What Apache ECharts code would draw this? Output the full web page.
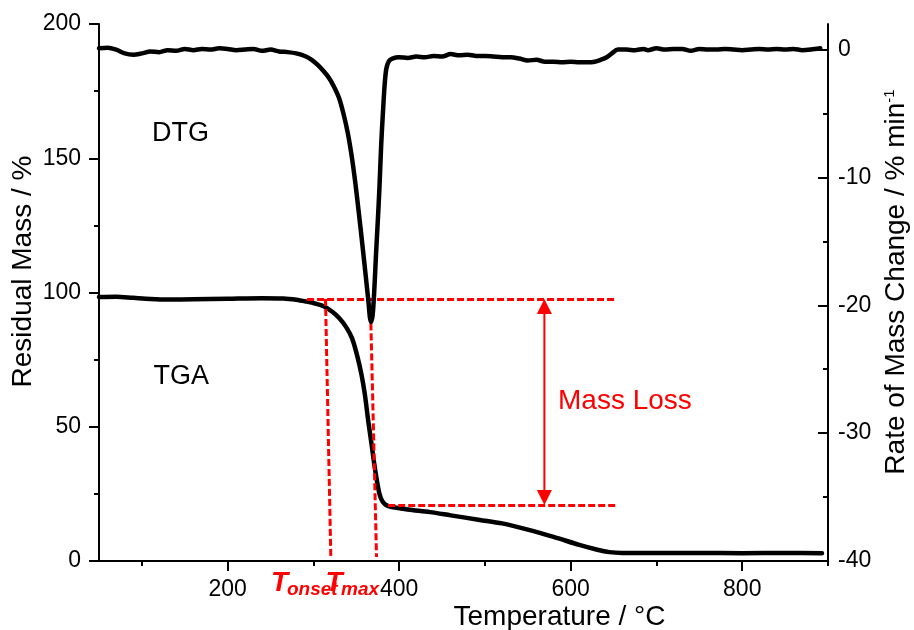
<!DOCTYPE html>
<html>
<head>
<meta charset="utf-8">
<script src="https://cdn.jsdelivr.net/npm/echarts@6/dist/echarts.min.js"></script>
<style>
  html, body { margin: 0; padding: 0; background: #fff; }
  #chart { width: 914px; height: 630px; }
</style>
</head>
<body>
<div id="chart"></div>
<script>
// TGA: residual mass (%) vs temperature (°C)
const tgaTemperature = [50, 70, 90, 110, 130, 160, 200, 240, 265, 280, 292, 302, 312, 322, 330, 338, 345, 351, 356, 360, 364, 368, 371, 374, 377, 380, 384, 390, 410, 436, 460, 494, 520, 550, 580, 610, 630, 645, 660, 700, 750, 800, 850, 893];
const tgaMass = [98.3, 98.4, 98.0, 97.6, 97.4, 97.5, 97.7, 97.9, 97.8, 97.3, 96.6, 95.9, 94.9, 92.8, 90.5, 87.2, 83.0, 76.5, 69.5, 62.0, 52.0, 43.0, 36.0, 30.0, 25.0, 22.5, 21.0, 20.2, 19.2, 18.2, 17.0, 15.3, 14.0, 11.7, 9.0, 6.0, 4.3, 3.3, 3.0, 3.0, 3.0, 2.9, 3.0, 2.9];

// DTG: rate of mass change (% min^-1) vs temperature (°C)
const dtgTemperature = [50, 60, 70, 80, 90, 100, 110, 120, 130, 140, 150, 160, 170, 180, 190, 200, 210, 220, 230, 240, 250, 260, 270, 280, 290, 298, 305, 312, 318, 324, 330, 335, 340, 345, 349, 353, 357, 361, 364, 367, 369, 371, 373, 375, 377, 379, 381, 383, 385, 388, 392, 400, 410, 420, 430, 440, 450, 460, 470, 480, 490, 500, 510, 520, 530, 540, 550, 560, 570, 580, 590, 600, 610, 620, 628, 635, 642, 648, 655, 665, 675, 685, 690, 700, 710, 720, 730, 740, 750, 760, 770, 780, 790, 800, 810, 820, 830, 840, 850, 860, 870, 880, 891];
const dtgRate = [0.1, 0.15, 0.0, -0.3, -0.4, -0.3, -0.15, -0.2, -0.05, -0.1, 0.05, -0.05, 0.05, 0.0, 0.1, 0.05, -0.05, 0.0, 0.05, -0.1, 0.0, -0.15, -0.2, -0.3, -0.5, -0.8, -1.2, -1.7, -2.2, -2.9, -3.8, -5.0, -6.5, -8.5, -10.5, -12.8, -15.2, -17.7, -19.6, -21.3, -20.8, -18.8, -16.0, -13.5, -10.8, -7.5, -5.0, -2.8, -1.5, -0.9, -0.7, -0.6, -0.65, -0.55, -0.6, -0.5, -0.55, -0.35, -0.45, -0.4, -0.5, -0.5, -0.55, -0.6, -0.6, -0.7, -0.85, -0.8, -0.95, -0.95, -1.0, -0.95, -1.0, -1.0, -0.95, -0.8, -0.6, -0.3, 0.0, 0.0, -0.05, 0.05, -0.05, 0.1, 0.0, 0.05, 0.05, -0.1, 0.05, 0.0, 0.0, 0.05, 0.0, -0.05, 0.0, 0.05, 0.0, 0.05, 0.0, 0.05, -0.05, 0.0, 0.1];

// Axis ticks
const tempMajorTicks = [200, 400, 600, 800];
const tempMinorTicks = [100, 300, 500, 700, 900];
const rateMajorTicks = [-40, -30, -20, -10, 0];
const rateMinorTicks = [-35, -25, -15, -5];

// Annotation values (temperature °C, residual mass %)
const massStart = 97.6;          // mass before the main decomposition step
const massAfterStep = 20.9;      // mass after the main step
const stepStartT = 292.6;
const stepEndT = 387.2;
const guideEndT = 653.8;
const arrowT = 569.3;
const onsetGuide = [[314.1, 97.6], [320.3, 1.5]];
const maxGuide = [[367.0, 88.5], [373.6, 1.5]];

const RED = '#ff0000';
const FONT = '"Liberation Sans", Arial, sans-serif';
const TICK_FONT = 23;

const tgaData = tgaTemperature.map((t, i) => [t, tgaMass[i]]);
const dtgData = dtgTemperature.map((t, i) => [t, dtgRate[i]]);

const dashStyle = { color: RED, width: 3, type: [7, 3] };
const seg = (a, b) => [{ coord: a }, { coord: b }];

const chart = echarts.init(document.getElementById('chart'), null, { renderer: 'canvas' });

const axisLineStyle = { color: '#000', width: 2 };

const option = {
  animation: false,
  backgroundColor: '#fff',
  textStyle: { fontFamily: FONT },
  grid: { left: 99, right: 86, top: 24, bottom: 69, containLabel: false },
  xAxis: [
    {
      type: 'value', min: 50, max: 900, position: 'bottom',
      axisLine: { show: true, onZero: false, lineStyle: axisLineStyle },
      axisTick: { show: true, customValues: tempMajorTicks, length: 10, lineStyle: { color: '#000', width: 2 } },
      axisLabel: { customValues: tempMajorTicks, fontSize: TICK_FONT, color: '#000', margin: 17, fontFamily: FONT },
      splitLine: { show: false }
    },
    {
      type: 'value', min: 50, max: 900, position: 'bottom',
      axisLine: { show: false, onZero: false },
      axisTick: { show: true, customValues: tempMinorTicks, length: 5, lineStyle: { color: '#000', width: 2 } },
      axisLabel: { show: false },
      splitLine: { show: false }
    }
  ],
  yAxis: [
    {
      type: 'value', min: 0, max: 200, interval: 50, position: 'left',
      axisLine: { show: true, onZero: false, lineStyle: axisLineStyle },
      axisTick: { show: true, length: 10, lineStyle: { color: '#000', width: 2 } },
      minorTick: { show: true, splitNumber: 2, length: 5, lineStyle: { color: '#000', width: 2 } },
      axisLabel: { fontSize: TICK_FONT, color: '#000', margin: 18, fontFamily: FONT },
      splitLine: { show: false },
      minorSplitLine: { show: false }
    },
    {
      type: 'value', min: -40, max: 2, position: 'right',
      axisLine: { show: true, onZero: false, lineStyle: axisLineStyle },
      axisTick: { show: true, inside: true, customValues: rateMajorTicks, length: 10, lineStyle: { color: '#000', width: 2 } },
      axisLabel: { customValues: rateMajorTicks, fontSize: TICK_FONT, color: '#000', margin: 10, fontFamily: FONT },
      splitLine: { show: false }
    },
    {
      type: 'value', min: -40, max: 2, position: 'right',
      axisLine: { show: false, onZero: false },
      axisTick: { show: true, inside: true, customValues: rateMinorTicks, length: 5, lineStyle: { color: '#000', width: 2 } },
      axisLabel: { show: false },
      splitLine: { show: false }
    }
  ],
  series: [
    {
      name: 'TGA', type: 'line', xAxisIndex: 0, yAxisIndex: 0, z: 2,
      data: tgaData, showSymbol: false, smooth: 0.3,
      lineStyle: { color: '#000', width: 4.5, cap: 'round', join: 'round' },
      markLine: {
        silent: true, symbol: ['none', 'none'], z: 5,
        label: { show: false },
        lineStyle: dashStyle,
        emphasis: { disabled: true },
        data: [
          seg([stepStartT, massStart], [guideEndT, massStart]),
          seg([stepEndT, massAfterStep], [guideEndT, massAfterStep]),
          seg(onsetGuide[0], onsetGuide[1]),
          seg(maxGuide[0], maxGuide[1])
        ]
      }
    },
    {
      name: 'DTG', type: 'line', xAxisIndex: 0, yAxisIndex: 1, z: 6,
      data: dtgData, showSymbol: false, smooth: 0.3,
      lineStyle: { color: '#000', width: 4.5, cap: 'round', join: 'round' }
    },
    {
      name: 'Mass loss arrow', type: 'custom', xAxisIndex: 0, yAxisIndex: 0, z: 5,
      silent: true,
      data: [[arrowT, massStart, massAfterStep]],
      encode: { x: 0, y: [1, 2] },
      renderItem: function (params, api) {
        const top = api.coord([api.value(0), api.value(1)]);
        const bot = api.coord([api.value(0), api.value(2)]);
        const x = top[0];
        const head = 15, half = 7.5;
        return {
          type: 'group',
          children: [
            { type: 'line', shape: { x1: x, y1: top[1] + head - 1, x2: x, y2: bot[1] - head + 1 }, style: { stroke: RED, lineWidth: 2 } },
            { type: 'polygon', shape: { points: [[x, top[1]], [x - half, top[1] + head], [x + half, top[1] + head]] }, style: { fill: RED } },
            { type: 'polygon', shape: { points: [[x, bot[1]], [x - half, bot[1] - head], [x + half, bot[1] - head]] }, style: { fill: RED } }
          ]
        };
      }
    }
  ],
  graphic: [
    { type: 'text', x: 180.5, y: 133.3, style: { text: 'DTG', fill: '#000', font: '27px ' + FONT, align: 'center', verticalAlign: 'middle' } },
    { type: 'text', x: 181.3, y: 376.3, style: { text: 'TGA', fill: '#000', font: '27px ' + FONT, align: 'center', verticalAlign: 'middle' } },
    { type: 'text', x: 558, y: 401.7, style: { text: 'Mass Loss', fill: RED, font: '28px ' + FONT, align: 'left', verticalAlign: 'middle' } },
    { type: 'text', x: 271, y: 583.3, style: { text: 'T', fill: RED, font: 'italic bold 28px ' + FONT, align: 'left', verticalAlign: 'middle' } },
    { type: 'text', x: 287, y: 590.1, style: { text: 'onset', fill: RED, font: 'italic bold 19px ' + FONT, align: 'left', verticalAlign: 'middle' } },
    { type: 'text', x: 325.5, y: 583.3, style: { text: 'T', fill: RED, font: 'italic bold 28px ' + FONT, align: 'left', verticalAlign: 'middle' } },
    { type: 'text', x: 341, y: 590.1, style: { text: 'max', fill: RED, font: 'italic bold 19px ' + FONT, align: 'left', verticalAlign: 'middle' } },
    { type: 'text', x: 559.5, y: 617.2, style: { text: 'Temperature / °C', fill: '#000', font: '28px ' + FONT, align: 'center', verticalAlign: 'middle' } },
    { type: 'text', x: 23.5, y: 271.5, rotation: Math.PI / 2, style: { text: 'Residual Mass / %', fill: '#000', font: '28px ' + FONT, align: 'center', verticalAlign: 'middle' } },
    {
      type: 'text', x: 896, y: 282, rotation: Math.PI / 2,
      style: {
        text: '{a|Rate of Mass Change / % min}{b|-1}',
        align: 'center', verticalAlign: 'middle',
        rich: {
          a: { fontSize: 28, fontFamily: FONT, fill: '#000', color: '#000', verticalAlign: 'bottom' },
          b: { fontSize: 15, fontFamily: FONT, fill: '#000', color: '#000', verticalAlign: 'top' }
        }
      }
    }
  ]
};

chart.setOption(option);
</script>
</body>
</html>
